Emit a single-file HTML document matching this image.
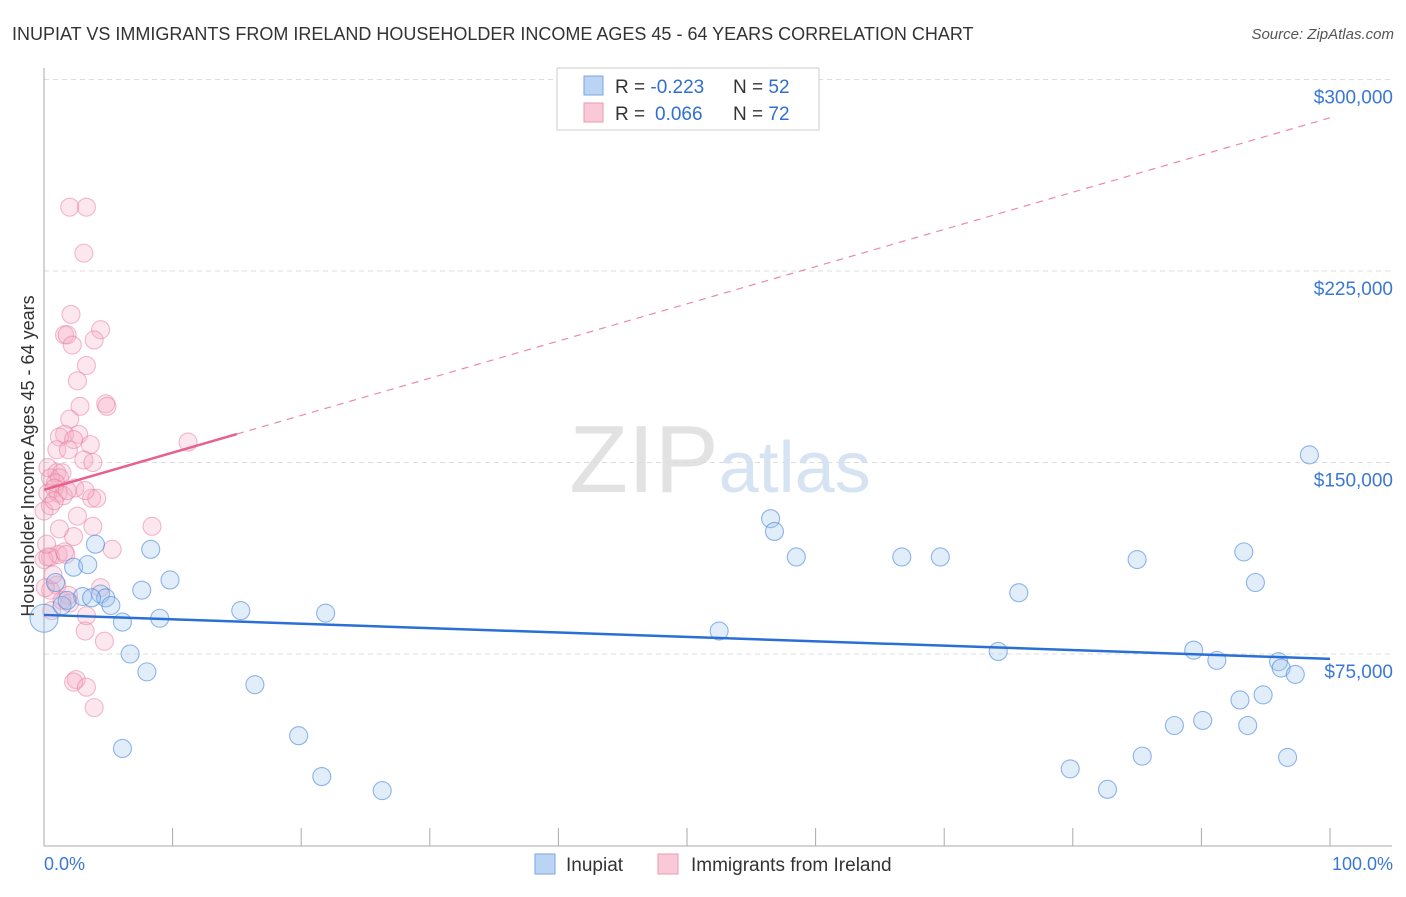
<!DOCTYPE html>
<html><head><meta charset="utf-8"><style>
body{margin:0;background:#fff;font-family:"Liberation Sans",sans-serif}
svg text{font-family:"Liberation Sans",sans-serif}
</style></head><body>
<svg width="1406" height="892" viewBox="0 0 1406 892">
<text x="12" y="40" font-size="18" fill="#333">INUPIAT VS IMMIGRANTS FROM IRELAND HOUSEHOLDER INCOME AGES 45 - 64 YEARS CORRELATION CHART</text>
<text x="1394" y="39" font-size="15" fill="#555" font-style="italic" text-anchor="end">Source: ZipAtlas.com</text>
<text x="720" y="492" font-size="96" fill="#e2e2e2" text-anchor="middle" font-family="Liberation Serif">ZIP<tspan fill="#d6e3f3" font-family="Liberation Sans" font-size="72">atlas</tspan></text>
<g id="grid"></g>
<line x1="44" y1="68" x2="44" y2="846" stroke="#aaa"/>
<line x1="44" y1="846" x2="1392" y2="846" stroke="#aaa"/>
<text transform="translate(34,456) rotate(-90)" font-size="18" fill="#333" text-anchor="middle">Householder Income Ages 45 - 64 years</text>
<text x="44" y="870" font-size="18" fill="#3a78d4">0.0%</text>
<text x="1393" y="870" font-size="18" fill="#3a78d4" text-anchor="end">100.0%</text>
<g id="pts"></g>
<g id="lines"></g>
<g>
<rect x="557" y="68" width="262" height="62" fill="#fff" stroke="#ccc"/>
<rect x="584" y="76" width="19" height="19" fill="#bcd4f3" stroke="#7aa6e0"/>
<rect x="584" y="103" width="19" height="19" fill="#f9c9d8" stroke="#ec9ab4"/>
<text x="615" y="93" font-size="19" fill="#333">R = <tspan fill="#2f6fd1">-0.223</tspan><tspan x="733">N = </tspan><tspan fill="#2f6fd1">52</tspan></text>
<text x="615" y="120" font-size="19" fill="#333">R = <tspan fill="#2f6fd1" x="655">0.066</tspan><tspan x="733">N = </tspan><tspan fill="#2f6fd1">72</tspan></text>
</g>
<g>
<rect x="535" y="854" width="20" height="20" fill="#bcd4f3" stroke="#7aa6e0"/>
<text x="566" y="871" font-size="19" fill="#333">Inupiat</text>
<rect x="658" y="854" width="20" height="20" fill="#f9c9d8" stroke="#ec9ab4"/>
<text x="691" y="871" font-size="19" fill="#333">Immigrants from Ireland</text>
</g>
</svg>
<script>
const yTicks=[75000,150000,225000,300000];
const yTickLabels=["$75,000","$150,000","$225,000","$300,000"];
const xTicks=[0,10,20,30,40,50,60,70,80,90,100];
const bluePct=[0,0.9,1.4,2.3,3,3.4,4,4.4,4.8,5.2,6.1,6.1,6.7,7.6,8,8.3,9,9.8,15.3,16.4,19.8,21.6,21.9,26.3,52.5,56.5,56.8,58.5,66.7,69.7,74.2,75.8,79.8,82.7,85,85.4,87.9,89.4,90.1,91.2,93,93.3,93.6,94.2,94.8,96,96.2,96.7,97.3,98.4,1.8,3.7];
const blueVal=[89000,103000,94000,109000,97500,110000,118000,98500,97000,94000,87500,38000,75000,100000,68000,116000,89000,104000,92000,63000,43000,27000,91000,21500,84000,128000,123000,113000,113000,113000,76000,99000,30000,22000,112000,35000,47000,76500,49000,72500,57000,115000,47000,103000,59000,72000,69500,34500,67000,153000,96000,97000];
const pinkPct=[2,3.3,3.1,2.1,1.6,1.8,4.4,2.2,3.9,3.3,2.6,4.8,4.9,2.8,2,1.6,1.2,2.7,2.3,3.6,1,1.9,3.1,3.8,0.3,1,1.4,0.5,1.2,0.9,2.4,0.3,0.8,1.1,1.5,3.7,4.1,0,0.5,2.6,3.8,8.4,11.2,2.3,5.3,0.5,1.1,1.6,0,0.3,1.7,1,1.4,1.9,0.6,2.0,3.3,3.2,4.7,2.5,2.3,3.3,3.9,0.5,0.1,0.7,0.8,1.8,3.2,1.2,4.4,0.2];
const pinkVal=[250000,250000,232000,208000,200000,200000,202000,196000,198000,188000,182000,173000,172000,172000,167000,161000,160000,161000,159000,157000,155000,155000,151000,150000,148000,146000,146000,144000,144000,142000,140000,138000,140000,138000,137000,136000,136000,131000,133000,129000,125000,125000,158000,121000,116000,113000,114000,115000,112000,113000,114000,102000,96000,98000,92000,95000,90000,84000,80000,65000,64000,62000,54000,100000,101000,106000,135000,139000,139000,124000,101000,118000];
const blueTrend=[90300,73100];
const pinkTrend=[139300,285000];
const NS="http://www.w3.org/2000/svg";
const X=p=>44+p*12.86;
const Y=v=>845.5-v*0.0025533;
function mk(t,a,parent){const e=document.createElementNS(NS,t);for(const k in a)e.setAttribute(k,a[k]);parent.appendChild(e);return e;}
const grid=document.getElementById('grid');
yTicks.forEach((v,i)=>{
 const l=mk('line',{x1:44,x2:1392,y1:Y(v),y2:Y(v),stroke:'#ddd','stroke-dasharray':'5,4'},grid);
 
 
 const t=mk('text',{x:1393,y:Y(v)+24,'font-size':19,fill:'#3a78d4','text-anchor':'end'},grid);
 t.textContent=yTickLabels[i];
 
 
});
xTicks.forEach(p=>{
 const l=mk('line',{x1:X(p),x2:X(p),y1:828,y2:846,stroke:'#aaa'},grid);
 
 
});
const pts=document.getElementById('pts');
pinkPct.forEach((p,i)=>{
 const c=mk('circle',{cx:X(p),cy:Y(pinkVal[i]),r:9,fill:'rgba(244,170,195,0.28)',stroke:'rgba(232,120,155,0.5)','stroke-width':1.1},pts);
 
 
});
bluePct.forEach((p,i)=>{
 const c=mk('circle',{cx:X(p),cy:Y(blueVal[i]),r:i===0?14:9,fill:'rgba(160,195,240,0.3)',stroke:'rgba(70,135,220,0.6)','stroke-width':1.1},pts);
 
 
});
const lines=document.getElementById('lines');
const pv=p=>pinkTrend[0]+(pinkTrend[1]-pinkTrend[0])*p/100;
let l1=mk('line',{x1:X(0),y1:Y(pinkTrend[0]),x2:X(15),y2:Y(pv(15)),stroke:'#e8608c','stroke-width':2.5},lines);


let l2=mk('line',{x1:X(15),y1:Y(pv(15)),x2:X(100),y2:Y(pinkTrend[1]),stroke:'#eb8aa8','stroke-width':1.2,'stroke-dasharray':'7,6'},lines);


let l3=mk('line',{x1:X(0),y1:Y(blueTrend[0]),x2:X(100),y2:Y(blueTrend[1]),stroke:'#2a6fd6','stroke-width':2.5},lines);


</script>
</body></html>
